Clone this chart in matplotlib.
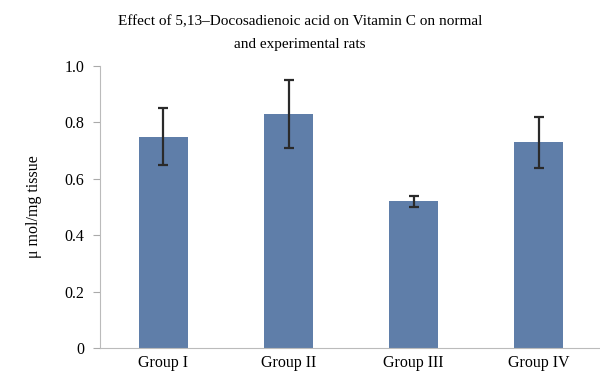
import matplotlib
matplotlib.use("Agg")
import matplotlib.pyplot as plt
import numpy as np

groups = ["Group I", "Group II", "Group III", "Group IV"]
vit_c = [0.75, 0.83, 0.52, 0.73]
err = [0.10, 0.12, 0.02, 0.09]
yticks = [0, 0.2, 0.4, 0.6, 0.8, 1.0]
ytick_labels = ["0", "0.2", "0.4", "0.6", "0.8", "1.0"]

plt.rcParams["font.family"] = ["Liberation Serif", "DejaVu Serif"]

fig = plt.figure(figsize=(6, 3.72), dpi=100)
ax = fig.add_axes([0.166, 0.0645, 0.834, 0.758])

x = np.arange(len(groups))
ax.bar(x + 0.01, vit_c, width=0.39, color="#5f7ea9", zorder=2)
ax.errorbar(x + 0.01, vit_c, yerr=err, fmt="none", ecolor="#2a2a2a",
            elinewidth=1.6, capsize=3.5, capthick=1.6, zorder=3)

ax.set_xlim(-0.5, 3.5)
ax.set_ylim(0, 1.0)
ax.set_xticks(x + 0.01)
ax.set_xticklabels(groups, fontsize=11.5)
ax.set_yticks(yticks)
ax.set_yticklabels(ytick_labels, fontsize=11.5)
ax.tick_params(axis="x", length=0, pad=5)
ax.tick_params(axis="y", length=5, color="#aaaaaa", pad=6)

for s in ["top", "right"]:
    ax.spines[s].set_visible(False)
ax.spines["left"].set_color("#bbbbbb")
ax.spines["bottom"].set_color("#bbbbbb")

ax.set_ylabel("μ mol/mg tissue", fontsize=11.5, labelpad=16)

fig.text(0.5, 0.942, "Effect of 5,13\u2013Docosadienoic acid on Vitamin C on normal",
         ha="center", va="center", fontsize=11)
fig.text(0.5, 0.88, "and experimental rats", ha="center", va="center", fontsize=11)

fig.savefig("out.png", dpi=100)
